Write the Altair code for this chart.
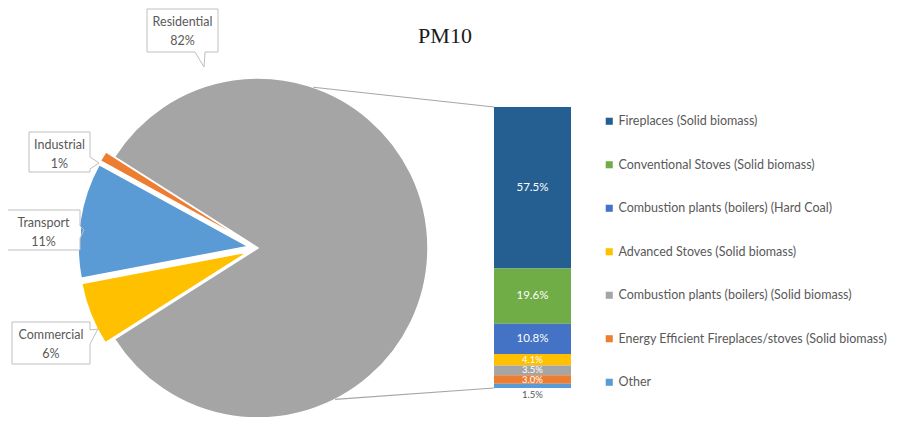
import math
import altair as alt
import pandas as pd

# ---------------- data ----------------
sectors = ["Residential", "Commercial", "Transport", "Industrial"]
sector_shares = [82, 6, 11, 1]
sector_colors = ["#A5A5A5", "#FFC000", "#5B9BD5", "#ED7D31"]

sub_categories = [
    "Fireplaces (Solid biomass)",
    "Conventional Stoves (Solid biomass)",
    "Combustion plants (boilers) (Hard Coal)",
    "Advanced Stoves (Solid biomass)",
    "Combustion plants (boilers) (Solid biomass)",
    "Energy Efficient Fireplaces/stoves (Solid biomass)",
    "Other",
]
sub_values = [57.5, 19.6, 10.8, 4.1, 3.5, 3.0, 1.5]
sub_colors = ["#255E91", "#70AD47", "#4472C4", "#FFC000", "#A5A5A5", "#ED7D31", "#5B9BD5"]

title_text = "PM10"

# ---------------- layout (page pixels, converted to chart pixels) ----------------
M = 8  # page margin


def P(v):
    return v - M


CX, CY, R = P(258), P(248), 170
EXPLODE = 10
# residential slice centered toward the bar (east)
start_deg = 90 - sector_shares[0] * 3.6 / 2
start_rad = math.radians(start_deg)
theta_scale = alt.Scale(domain=[0, 100], range=[start_rad, start_rad + 2 * math.pi])

BAR_X0, BAR_X1 = P(494), P(571)
BAR_TOP, BAR_BOT = P(107), P(388)
y_scale = alt.Scale(domain=[0, 100], range=[BAR_BOT, BAR_TOP])

FONT = "Lato"
TXT = "#595959"

pie_df = pd.DataFrame({"sector": sectors, "share": sector_shares, "order": list(range(len(sectors)))})
pie_color = alt.Scale(domain=sectors, range=sector_colors)

pie_base = (
    alt.Chart(pie_df)
    .transform_window(end="sum(share)", sort=[alt.SortField("order")], frame=[None, 0])
    .transform_calculate(start="datum.end - datum.share")
)

layers = []
cum = 0
for i, s in enumerate(sectors):
    mid = start_deg + (cum + sector_shares[i] / 2) * 3.6
    cum += sector_shares[i]
    d = 0 if i == 0 else EXPLODE
    dx = d * math.sin(math.radians(mid))
    dy = -d * math.cos(math.radians(mid))
    layers.append(
        pie_base.transform_filter(alt.datum.sector == s)
        .mark_arc(outerRadius=R, stroke="white", strokeWidth=1.5)
        .encode(
            theta=alt.Theta("start:Q", scale=theta_scale),
            theta2="end:Q",
            color=alt.Color("sector:N", scale=pie_color, legend=None),
            x=alt.value(CX + dx),
            y=alt.value(CY + dy),
        )
    )

# connector lines from pie edge to bar corners
a_top, a_bot = math.radians(19), math.radians(153)
conn_df = pd.DataFrame({
    "x": [CX + R * math.sin(a_top), CX + R * math.sin(a_bot)],
    "y": [CY - R * math.cos(a_top), CY - R * math.cos(a_bot)],
    "x2": [BAR_X0, BAR_X0],
    "y2": [BAR_TOP, BAR_BOT],
})
layers.append(
    alt.Chart(conn_df).mark_rule(color="#A6A6A6", strokeWidth=1.2).encode(
        x=alt.X("x:Q", scale=None, axis=None), y=alt.Y("y:Q", scale=None, axis=None),
        x2="x2:Q", y2="y2:Q",
    )
)

# stacked bar
bar_df = pd.DataFrame({"cat": sub_categories, "value": sub_values, "idx": list(range(len(sub_categories)))})
bar_base = (
    alt.Chart(bar_df)
    .transform_window(end="sum(value)", sort=[alt.SortField("idx", order="descending")], frame=[None, 0])
    .transform_calculate(start="datum.end - datum.value", mid="(datum.end + datum.end - datum.value) / 2")
)
layers.append(
    bar_base.mark_bar().encode(
        y=alt.Y("start:Q", scale=y_scale, axis=None),
        y2="end:Q",
        x=alt.value(BAR_X0),
        x2=alt.value(BAR_X1),
        color=alt.Color(
            "cat:N",
            scale=alt.Scale(domain=sub_categories, range=sub_colors),
            legend=alt.Legend(
                title=None, orient="none", legendX=P(603), legendY=P(115),
                symbolType="square", symbolSize=50, symbolStrokeWidth=0,
                labelFont=FONT, labelFontSize=12.5, labelColor=TXT, labelLimit=500,
                rowPadding=30.5, labelOffset=3,
            ),
        ),
    )
)
label_base = bar_base.transform_calculate(
    ly="datum.cat == 'Other' ? -2.6 : datum.mid",
    lbl="format(datum.value, '.1f') + '%'",
)
layers.append(
    label_base.transform_filter(alt.datum.value >= 5).mark_text(font=FONT, fontSize=11.5, baseline="middle").encode(
        y=alt.Y("ly:Q", scale=y_scale, axis=None),
        x=alt.value((BAR_X0 + BAR_X1) / 2),
        text="lbl:N",
        color=alt.value("white"),
    )
)
layers.append(
    label_base.transform_filter(alt.datum.value < 5).mark_text(font=FONT, fontSize=9.5, baseline="middle").encode(
        y=alt.Y("ly:Q", scale=y_scale, axis=None),
        x=alt.value((BAR_X0 + BAR_X1) / 2),
        text="lbl:N",
        color=alt.condition(alt.datum.cat == "Other", alt.value(TXT), alt.value("white")),
    )
)

# callout boxes
boxes = {
    "Residential": (147, 9, 218, 52),
    "Industrial": (29, 132, 90, 172),
    "Transport": (7, 210, 80, 250),
    "Commercial": (12, 322, 90, 364),
}
pointers = {  # base point a, base point b, tip
    "Residential": ((195, 52), (205, 52), (204, 67)),
    "Industrial": ((90, 157), (90, 169), (99, 163)),
    "Transport": ((80, 226), (80, 238), (84, 230)),
    "Commercial": ((90, 330), (90, 344), (98, 329)),
}
box_df = pd.DataFrame([
    {"x": P(b[0]), "y": P(b[1]), "x2": P(b[2]), "y2": P(b[3])} for b in boxes.values()
])
layers.append(
    alt.Chart(box_df).mark_rect(fill="white", stroke="#BFBFBF", strokeWidth=1).encode(
        x=alt.X("x:Q", scale=None, axis=None), y=alt.Y("y:Q", scale=None, axis=None),
        x2="x2:Q", y2="y2:Q",
    )
)
gap_rows, side_rows = [], []
for a, b, t in pointers.values():
    gap_rows.append({"x": P(a[0]), "y": P(a[1]), "x2": P(b[0]), "y2": P(b[1])})
    side_rows.append({"x": P(a[0]), "y": P(a[1]), "x2": P(t[0]), "y2": P(t[1])})
    side_rows.append({"x": P(b[0]), "y": P(b[1]), "x2": P(t[0]), "y2": P(t[1])})
layers.append(
    alt.Chart(pd.DataFrame(gap_rows)).mark_rule(color="white", strokeWidth=2).encode(
        x=alt.X("x:Q", scale=None, axis=None), y=alt.Y("y:Q", scale=None, axis=None),
        x2="x2:Q", y2="y2:Q",
    )
)
layers.append(
    alt.Chart(pd.DataFrame(side_rows)).mark_rule(color="#BFBFBF", strokeWidth=1).encode(
        x=alt.X("x:Q", scale=None, axis=None), y=alt.Y("y:Q", scale=None, axis=None),
        x2="x2:Q", y2="y2:Q",
    )
)
label_rows = []
for s, v in zip(sectors, sector_shares):
    x0, y0, x1, y1 = boxes[s]
    cxm = (x0 + x1) / 2
    label_rows.append({"x": P(cxm), "y": P(y0 + 13), "t": s})
    label_rows.append({"x": P(cxm), "y": P(y0 + 32), "t": f"{v}%"})
layers.append(
    alt.Chart(pd.DataFrame(label_rows)).mark_text(font=FONT, fontSize=12.5, color=TXT, baseline="middle").encode(
        x=alt.X("x:Q", scale=None, axis=None), y=alt.Y("y:Q", scale=None, axis=None), text="t:N",
    )
)

# title
layers.append(
    alt.Chart(pd.DataFrame({"t": [title_text]})).mark_text(
        font="Liberation Serif", fontSize=22, color="#1A1A1A", baseline="middle"
    ).encode(x=alt.value(P(445)), y=alt.value(P(36)), text="t:N")
)

chart = (
    alt.layer(*layers)
    .resolve_scale(x="independent", y="independent", color="independent")
    .properties(width=886, height=409, padding=0, autosize="none")
    .configure_view(stroke=None)
)

chart.save("out.html", embed_options={"renderer": "svg", "actions": False})
